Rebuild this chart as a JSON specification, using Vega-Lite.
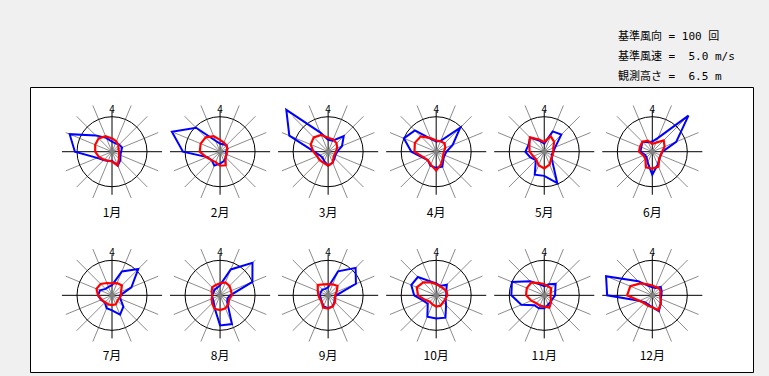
{
"$schema": "https://vega.github.io/schema/vega-lite/v6.json",
"width": 723, "height": 285,
"autosize": {"type": "none"},
"padding": {"left": 30, "top": 87, "right": 16, "bottom": 4},
"background": "#f0f0f0",
"config": {"view": {"fill": "white", "stroke": "black", "strokeWidth": 1}, "font": "Noto Sans CJK JP"},
"title": {"text": ["基準風向\u00a0=\u00a0100\u00a0回", "基準風速\u00a0=\u00a0\u00a05.0\u00a0m/s", "観測高さ\u00a0=\u00a0\u00a06.5\u00a0m"], "anchor": "start", "align": "left", "dx": 588, "offset": 5, "fontSize": 11, "fontWeight": "normal", "lineHeight": 20, "color": "black", "font": "DejaVu Sans Mono, Noto Sans CJK JP"},
"data": {"values": [
{"month":1,"deg":0,"freq":29,"speed":1.9},{"month":1,"deg":22.5,"freq":26,"speed":1.6},{"month":1,"deg":45,"freq":29,"speed":1.3},{"month":1,"deg":67.5,"freq":31,"speed":1.0},{"month":1,"deg":90,"freq":26,"speed":1.0},{"month":1,"deg":112.5,"freq":26,"speed":1.1},{"month":1,"deg":135,"freq":34,"speed":1.4},{"month":1,"deg":157.5,"freq":43,"speed":2.1},{"month":1,"deg":180,"freq":26,"speed":1.4},{"month":1,"deg":202.5,"freq":29,"speed":1.4},{"month":1,"deg":225,"freq":34,"speed":1.6},{"month":1,"deg":247.5,"freq":46,"speed":2.0},{"month":1,"deg":270,"freq":106,"speed":2.4},{"month":1,"deg":292.5,"freq":131,"speed":2.6},{"month":1,"deg":315,"freq":66,"speed":2.7},{"month":1,"deg":337.5,"freq":43,"speed":2.4},
{"month":2,"deg":0,"freq":23,"speed":1.7},{"month":2,"deg":22.5,"freq":23,"speed":1.4},{"month":2,"deg":45,"freq":26,"speed":1.3},{"month":2,"deg":67.5,"freq":23,"speed":1.1},{"month":2,"deg":90,"freq":17,"speed":1.0},{"month":2,"deg":112.5,"freq":20,"speed":1.0},{"month":2,"deg":135,"freq":23,"speed":1.1},{"month":2,"deg":157.5,"freq":29,"speed":2.1},{"month":2,"deg":180,"freq":34,"speed":2.0},{"month":2,"deg":202.5,"freq":43,"speed":1.6},{"month":2,"deg":225,"freq":34,"speed":1.7},{"month":2,"deg":247.5,"freq":40,"speed":2.1},{"month":2,"deg":270,"freq":106,"speed":2.9},{"month":2,"deg":292.5,"freq":149,"speed":3.0},{"month":2,"deg":315,"freq":97,"speed":2.9},{"month":2,"deg":337.5,"freq":34,"speed":2.4},
{"month":3,"deg":0,"freq":34,"speed":2.0},{"month":3,"deg":22.5,"freq":34,"speed":1.9},{"month":3,"deg":45,"freq":63,"speed":1.7},{"month":3,"deg":67.5,"freq":43,"speed":1.4},{"month":3,"deg":90,"freq":26,"speed":1.1},{"month":3,"deg":112.5,"freq":23,"speed":1.0},{"month":3,"deg":135,"freq":26,"speed":1.1},{"month":3,"deg":157.5,"freq":34,"speed":1.7},{"month":3,"deg":180,"freq":40,"speed":2.0},{"month":3,"deg":202.5,"freq":29,"speed":1.7},{"month":3,"deg":225,"freq":23,"speed":1.7},{"month":3,"deg":247.5,"freq":26,"speed":1.7},{"month":3,"deg":270,"freq":40,"speed":2.1},{"month":3,"deg":292.5,"freq":120,"speed":2.7},{"month":3,"deg":315,"freq":169,"speed":2.9},{"month":3,"deg":337.5,"freq":60,"speed":2.6},
{"month":4,"deg":0,"freq":29,"speed":1.6},{"month":4,"deg":22.5,"freq":34,"speed":1.6},{"month":4,"deg":45,"freq":97,"speed":1.7},{"month":4,"deg":67.5,"freq":51,"speed":1.4},{"month":4,"deg":90,"freq":29,"speed":1.1},{"month":4,"deg":112.5,"freq":26,"speed":1.1},{"month":4,"deg":135,"freq":29,"speed":1.3},{"month":4,"deg":157.5,"freq":46,"speed":1.9},{"month":4,"deg":180,"freq":46,"speed":2.7},{"month":4,"deg":202.5,"freq":43,"speed":2.0},{"month":4,"deg":225,"freq":34,"speed":1.7},{"month":4,"deg":247.5,"freq":43,"speed":2.0},{"month":4,"deg":270,"freq":71,"speed":3.1},{"month":4,"deg":292.5,"freq":100,"speed":3.3},{"month":4,"deg":315,"freq":86,"speed":3.1},{"month":4,"deg":337.5,"freq":40,"speed":2.1},
{"month":5,"deg":0,"freq":23,"speed":1.4},{"month":5,"deg":22.5,"freq":63,"speed":2.4},{"month":5,"deg":45,"freq":69,"speed":2.0},{"month":5,"deg":67.5,"freq":34,"speed":1.4},{"month":5,"deg":90,"freq":26,"speed":1.3},{"month":5,"deg":112.5,"freq":23,"speed":1.3},{"month":5,"deg":135,"freq":31,"speed":1.4},{"month":5,"deg":157.5,"freq":97,"speed":2.0},{"month":5,"deg":180,"freq":69,"speed":2.4},{"month":5,"deg":202.5,"freq":71,"speed":2.1},{"month":5,"deg":225,"freq":34,"speed":1.6},{"month":5,"deg":247.5,"freq":43,"speed":1.7},{"month":5,"deg":270,"freq":54,"speed":2.1},{"month":5,"deg":292.5,"freq":49,"speed":2.3},{"month":5,"deg":315,"freq":57,"speed":2.9},{"month":5,"deg":337.5,"freq":34,"speed":1.9},
{"month":6,"deg":0,"freq":29,"speed":1.1},{"month":6,"deg":22.5,"freq":43,"speed":1.4},{"month":6,"deg":45,"freq":146,"speed":2.3},{"month":6,"deg":67.5,"freq":74,"speed":1.9},{"month":6,"deg":90,"freq":29,"speed":1.4},{"month":6,"deg":112.5,"freq":26,"speed":1.3},{"month":6,"deg":135,"freq":29,"speed":1.4},{"month":6,"deg":157.5,"freq":40,"speed":2.3},{"month":6,"deg":180,"freq":66,"speed":2.4},{"month":6,"deg":202.5,"freq":34,"speed":2.4},{"month":6,"deg":225,"freq":23,"speed":1.4},{"month":6,"deg":247.5,"freq":23,"speed":1.4},{"month":6,"deg":270,"freq":34,"speed":1.9},{"month":6,"deg":292.5,"freq":34,"speed":1.9},{"month":6,"deg":315,"freq":40,"speed":2.0},{"month":6,"deg":337.5,"freq":29,"speed":1.7},
{"month":7,"deg":0,"freq":29,"speed":1.7},{"month":7,"deg":22.5,"freq":74,"speed":1.9},{"month":7,"deg":45,"freq":106,"speed":2.0},{"month":7,"deg":67.5,"freq":60,"speed":1.4},{"month":7,"deg":90,"freq":23,"speed":1.3},{"month":7,"deg":112.5,"freq":26,"speed":1.1},{"month":7,"deg":135,"freq":46,"speed":1.1},{"month":7,"deg":157.5,"freq":60,"speed":1.4},{"month":7,"deg":180,"freq":43,"speed":1.4},{"month":7,"deg":202.5,"freq":40,"speed":1.4},{"month":7,"deg":225,"freq":29,"speed":1.4},{"month":7,"deg":247.5,"freq":34,"speed":1.6},{"month":7,"deg":270,"freq":40,"speed":2.0},{"month":7,"deg":292.5,"freq":37,"speed":2.4},{"month":7,"deg":315,"freq":26,"speed":2.3},{"month":7,"deg":337.5,"freq":26,"speed":1.9},
{"month":8,"deg":0,"freq":29,"speed":1.7},{"month":8,"deg":22.5,"freq":80,"speed":2.0},{"month":8,"deg":45,"freq":131,"speed":1.9},{"month":8,"deg":67.5,"freq":100,"speed":1.7},{"month":8,"deg":90,"freq":29,"speed":1.7},{"month":8,"deg":112.5,"freq":23,"speed":1.4},{"month":8,"deg":135,"freq":29,"speed":1.7},{"month":8,"deg":157.5,"freq":89,"speed":2.0},{"month":8,"deg":180,"freq":86,"speed":2.1},{"month":8,"deg":202.5,"freq":40,"speed":2.1},{"month":8,"deg":225,"freq":26,"speed":1.6},{"month":8,"deg":247.5,"freq":23,"speed":1.3},{"month":8,"deg":270,"freq":23,"speed":1.1},{"month":8,"deg":292.5,"freq":20,"speed":1.3},{"month":8,"deg":315,"freq":23,"speed":1.6},{"month":8,"deg":337.5,"freq":23,"speed":1.6},
{"month":9,"deg":0,"freq":23,"speed":1.6},{"month":9,"deg":22.5,"freq":74,"speed":1.7},{"month":9,"deg":45,"freq":111,"speed":1.9},{"month":9,"deg":67.5,"freq":86,"speed":1.3},{"month":9,"deg":90,"freq":23,"speed":1.0},{"month":9,"deg":112.5,"freq":20,"speed":1.1},{"month":9,"deg":135,"freq":26,"speed":1.4},{"month":9,"deg":157.5,"freq":34,"speed":1.7},{"month":9,"deg":180,"freq":37,"speed":1.9},{"month":9,"deg":202.5,"freq":34,"speed":1.9},{"month":9,"deg":225,"freq":26,"speed":1.3},{"month":9,"deg":247.5,"freq":23,"speed":1.3},{"month":9,"deg":270,"freq":23,"speed":1.4},{"month":9,"deg":292.5,"freq":23,"speed":1.6},{"month":9,"deg":315,"freq":23,"speed":2.1},{"month":9,"deg":337.5,"freq":20,"speed":1.7},
{"month":10,"deg":0,"freq":34,"speed":1.6},{"month":10,"deg":22.5,"freq":29,"speed":1.4},{"month":10,"deg":45,"freq":43,"speed":1.4},{"month":10,"deg":67.5,"freq":31,"speed":1.6},{"month":10,"deg":90,"freq":29,"speed":1.6},{"month":10,"deg":112.5,"freq":29,"speed":1.4},{"month":10,"deg":135,"freq":40,"speed":1.4},{"month":10,"deg":157.5,"freq":69,"speed":1.6},{"month":10,"deg":180,"freq":66,"speed":1.6},{"month":10,"deg":202.5,"freq":66,"speed":1.4},{"month":10,"deg":225,"freq":34,"speed":1.3},{"month":10,"deg":247.5,"freq":40,"speed":1.7},{"month":10,"deg":270,"freq":63,"speed":2.6},{"month":10,"deg":292.5,"freq":77,"speed":3.0},{"month":10,"deg":315,"freq":74,"speed":2.6},{"month":10,"deg":337.5,"freq":43,"speed":2.0},
{"month":11,"deg":0,"freq":26,"speed":1.6},{"month":11,"deg":22.5,"freq":34,"speed":1.4},{"month":11,"deg":45,"freq":46,"speed":1.4},{"month":11,"deg":67.5,"freq":34,"speed":1.0},{"month":11,"deg":90,"freq":31,"speed":0.9},{"month":11,"deg":112.5,"freq":26,"speed":1.0},{"month":11,"deg":135,"freq":26,"speed":1.4},{"month":11,"deg":157.5,"freq":29,"speed":1.9},{"month":11,"deg":180,"freq":37,"speed":1.6},{"month":11,"deg":202.5,"freq":40,"speed":1.6},{"month":11,"deg":225,"freq":40,"speed":1.6},{"month":11,"deg":247.5,"freq":71,"speed":2.0},{"month":11,"deg":270,"freq":94,"speed":2.6},{"month":11,"deg":292.5,"freq":100,"speed":2.7},{"month":11,"deg":315,"freq":57,"speed":2.6},{"month":11,"deg":337.5,"freq":34,"speed":1.9},
{"month":12,"deg":0,"freq":23,"speed":1.4},{"month":12,"deg":22.5,"freq":23,"speed":1.3},{"month":12,"deg":45,"freq":34,"speed":1.4},{"month":12,"deg":67.5,"freq":29,"speed":1.3},{"month":12,"deg":90,"freq":26,"speed":1.1},{"month":12,"deg":112.5,"freq":26,"speed":1.3},{"month":12,"deg":135,"freq":34,"speed":1.7},{"month":12,"deg":157.5,"freq":49,"speed":2.3},{"month":12,"deg":180,"freq":34,"speed":1.7},{"month":12,"deg":202.5,"freq":29,"speed":1.6},{"month":12,"deg":225,"freq":29,"speed":1.6},{"month":12,"deg":247.5,"freq":40,"speed":2.0},{"month":12,"deg":270,"freq":129,"speed":3.6},{"month":12,"deg":292.5,"freq":143,"speed":3.4},{"month":12,"deg":315,"freq":57,"speed":2.4},{"month":12,"deg":337.5,"freq":29,"speed":1.7}
]},
"transform": [
{"calculate": "2.343 + 3.0874*((datum.month-1)%6)", "as": "cx"},
{"calculate": "datum.month <= 6 ? 6.294 : 2.191", "as": "cy"},
{"calculate": "datum.deg*PI/180", "as": "rad"}
],
"layer": [
{"transform": [{"filter": "datum.deg % 90 != 0"}, {"calculate": "datum.cx + 1.43*sin(datum.rad)", "as": "sx"}, {"calculate": "datum.cy + 1.43*cos(datum.rad)", "as": "sy"}],
 "mark": {"type": "rule", "color": "#8c8c8c", "strokeWidth": 1},
 "encoding": {"x": {"field": "cx", "type": "quantitative", "scale": {"domain": [0, 20.657], "nice": false, "zero": false}, "axis": null}, "y": {"field": "cy", "type": "quantitative", "scale": {"domain": [0, 8.143], "nice": false, "zero": false}, "axis": null}, "x2": {"field": "sx"}, "y2": {"field": "sy"}}},
{"transform": [{"filter": "datum.deg == 0"}, {"calculate": "datum.cx - 1.43", "as": "hx1"}, {"calculate": "datum.cx + 1.43", "as": "hx2"}],
 "mark": {"type": "rule", "color": "black", "strokeWidth": 1},
 "encoding": {"x": {"field": "hx1", "type": "quantitative", "scale": {"domain": [0, 20.657], "nice": false, "zero": false}, "axis": null}, "x2": {"field": "hx2"}, "y": {"field": "cy", "type": "quantitative", "scale": {"domain": [0, 8.143], "nice": false, "zero": false}, "axis": null}}},
{"transform": [{"filter": "datum.deg == 0"}, {"calculate": "datum.cy - 1.23", "as": "vy1"}, {"calculate": "datum.cy + 1.17", "as": "vy2"}],
 "mark": {"type": "rule", "color": "black", "strokeWidth": 1},
 "encoding": {"x": {"field": "cx", "type": "quantitative", "scale": {"domain": [0, 20.657], "nice": false, "zero": false}, "axis": null}, "y": {"field": "vy1", "type": "quantitative", "scale": {"domain": [0, 8.143], "nice": false, "zero": false}, "axis": null}, "y2": {"field": "vy2"}}},
{"transform": [{"filter": "datum.deg == 0"}],
 "mark": {"type": "point", "shape": "circle", "size": 4900, "filled": false, "stroke": "black", "strokeWidth": 1, "opacity": 1},
 "encoding": {"x": {"field": "cx", "type": "quantitative", "scale": {"domain": [0, 20.657], "nice": false, "zero": false}, "axis": null}, "y": {"field": "cy", "type": "quantitative", "scale": {"domain": [0, 8.143], "nice": false, "zero": false}, "axis": null}}},
{"transform": [{"calculate": "datum.cx + datum.freq/100*sin(datum.rad)", "as": "bx"}, {"calculate": "datum.cy + datum.freq/100*cos(datum.rad)", "as": "by"}],
 "mark": {"type": "line", "interpolate": "linear-closed", "color": "#0000ff", "strokeWidth": 2},
 "encoding": {"x": {"field": "bx", "type": "quantitative", "scale": {"domain": [0, 20.657], "nice": false, "zero": false}, "axis": null}, "y": {"field": "by", "type": "quantitative", "scale": {"domain": [0, 8.143], "nice": false, "zero": false}, "axis": null}, "order": {"field": "deg", "type": "quantitative"}, "detail": {"field": "month", "type": "nominal"}}},
{"transform": [{"calculate": "datum.cx + datum.speed/5*sin(datum.rad)", "as": "rx"}, {"calculate": "datum.cy + datum.speed/5*cos(datum.rad)", "as": "ry"}],
 "mark": {"type": "line", "interpolate": "linear-closed", "color": "#ff0000", "strokeWidth": 2.2},
 "encoding": {"x": {"field": "rx", "type": "quantitative", "scale": {"domain": [0, 20.657], "nice": false, "zero": false}, "axis": null}, "y": {"field": "ry", "type": "quantitative", "scale": {"domain": [0, 8.143], "nice": false, "zero": false}, "axis": null}, "order": {"field": "deg", "type": "quantitative"}, "detail": {"field": "month", "type": "nominal"}}},
{"transform": [{"filter": "datum.deg == 0"}],
 "mark": {"type": "point", "shape": "circle", "size": 30, "filled": true, "color": "#808080", "opacity": 1},
 "encoding": {"x": {"field": "cx", "type": "quantitative", "scale": {"domain": [0, 20.657], "nice": false, "zero": false}, "axis": null}, "y": {"field": "cy", "type": "quantitative", "scale": {"domain": [0, 8.143], "nice": false, "zero": false}, "axis": null}}},
{"transform": [{"filter": "datum.deg == 0"}, {"calculate": "datum.cy - 1.743", "as": "ly"}, {"calculate": "datum.month + '月'", "as": "label"}],
 "mark": {"type": "text", "fontSize": 12, "color": "black", "align": "center", "baseline": "middle"},
 "encoding": {"x": {"field": "cx", "type": "quantitative", "scale": {"domain": [0, 20.657], "nice": false, "zero": false}, "axis": null}, "y": {"field": "ly", "type": "quantitative", "scale": {"domain": [0, 8.143], "nice": false, "zero": false}, "axis": null}, "text": {"field": "label"}}},
{"transform": [{"filter": "datum.deg == 0"}, {"calculate": "datum.cy + 1.2", "as": "ny"}],
 "mark": {"type": "text", "text": "4", "fontSize": 10, "color": "black", "align": "center", "baseline": "middle"},
 "encoding": {"x": {"field": "cx", "type": "quantitative", "scale": {"domain": [0, 20.657], "nice": false, "zero": false}, "axis": null}, "y": {"field": "ny", "type": "quantitative", "scale": {"domain": [0, 8.143], "nice": false, "zero": false}, "axis": null}}}
]
}
